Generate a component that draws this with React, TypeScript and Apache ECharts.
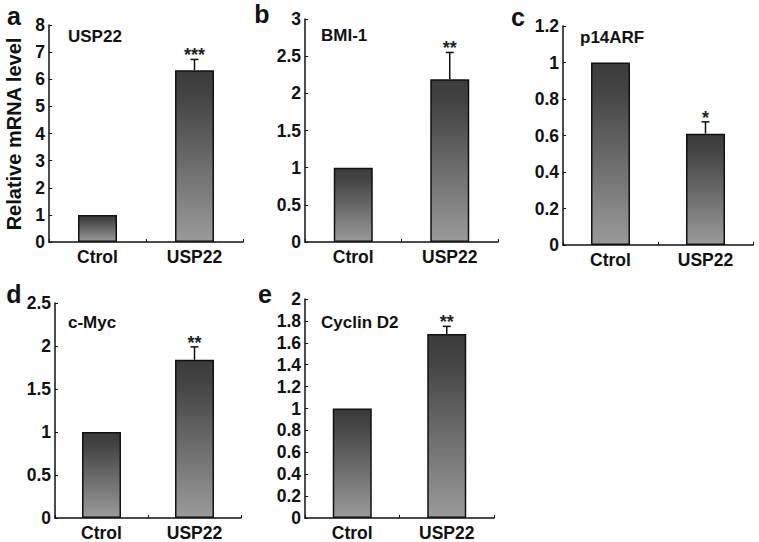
import React, { useEffect, useRef } from "react";
import * as echarts from "echarts";

const categories = ["Ctrol", "USP22"];
const panelLetters = ["a", "b", "c", "d", "e"];
const genes = ["USP22", "BMI-1", "p14ARF", "c-Myc", "Cyclin D2"];
const ctrolValues = [1, 1, 1, 1, 1];
const usp22Values = [6.33, 2.19, 0.61, 1.84, 1.68];
const usp22Errors = [0.4, 0.36, 0.065, 0.15, 0.07];
const significance = ["***", "**", "*", "**", "**"];
const yMax = [8, 3, 1.2, 2.5, 2];
const yInterval = [1, 0.5, 0.2, 0.5, 0.2];
const yAxisTitle = "Relative mRNA level";

// layout (pixels)
const grids = [
  { left: 49, top: 25, width: 194, height: 217 },
  { left: 305, top: 19, width: 193, height: 223 },
  { left: 563, top: 26, width: 190, height: 219 },
  { left: 55, top: 303, width: 186, height: 217 },
  { left: 305, top: 299, width: 189, height: 221 },
];
const titlePos = [
  [68, 36],
  [321, 35],
  [580, 37],
  [68, 322],
  [321, 322],
];
const letterPos = [
  [14, 16],
  [262, 14],
  [518, 17],
  [14, 294],
  [265, 294],
];

const FONT = "'Liberation Sans', Arial, Helvetica, sans-serif";
const INK = "#111";

export default function App() {
  const ref = useRef<HTMLDivElement>(null);
  useEffect(() => {
    document.body.style.margin = "0";
    if (!ref.current) return;
    const chart = echarts.init(ref.current, undefined, { renderer: "svg" });
    const barGradient = new echarts.graphic.LinearGradient(0, 0, 0, 1, [
      { offset: 0, color: "#3b3b3b" },
      { offset: 0.15, color: "#444444" },
      { offset: 1, color: "#9a9a9a" },
    ]);
    const xAxis: any[] = [];
    const yAxis: any[] = [];
    const series: any[] = [];
    const graphic: any[] = [];
    grids.forEach((g, i) => {
      xAxis.push({
        type: "category",
        gridIndex: i,
        data: categories,
        axisLine: { lineStyle: { color: INK, width: 1.5 } },
        axisTick: { show: true, inside: true, length: 3, lineStyle: { color: INK, width: 1 } },
        axisLabel: { color: INK, fontSize: 17.5, fontWeight: "bold", fontFamily: FONT, margin: 6 },
      });
      yAxis.push({
        type: "value",
        gridIndex: i,
        min: 0,
        max: yMax[i],
        interval: yInterval[i],
        splitLine: { show: false },
        axisLine: { show: true, lineStyle: { color: INK, width: 1.5 } },
        axisTick: { show: true, inside: true, length: 3, lineStyle: { color: INK, width: 1 } },
        axisLabel: { color: INK, fontSize: 17.5, fontWeight: "bold", fontFamily: FONT, margin: 4 },
      });
      series.push({
        type: "bar",
        xAxisIndex: i,
        yAxisIndex: i,
        barWidth: 39,
        data: [ctrolValues[i], usp22Values[i]],
        itemStyle: { color: barGradient, borderColor: INK, borderWidth: 1.5 },
        z: 2,
      });
      const stars = significance[i];
      series.push({
        type: "custom",
        xAxisIndex: i,
        yAxisIndex: i,
        z: 3,
        encode: { x: 0, y: 1 },
        data: [[1, usp22Values[i], usp22Errors[i]]],
        renderItem: (params: any, api: any) => {
          const x = api.value(0);
          const mean = api.value(1);
          const err = api.value(2);
          const base = api.coord([x, mean]);
          const top = api.coord([x, mean + err]);
          return {
            type: "group",
            children: [
              {
                type: "line",
                shape: { x1: base[0], y1: base[1], x2: top[0], y2: top[1] },
                style: { stroke: INK, lineWidth: 1.5 },
              },
              {
                type: "line",
                shape: { x1: top[0] - 4, y1: top[1], x2: top[0] + 4, y2: top[1] },
                style: { stroke: INK, lineWidth: 1.5 },
              },
              {
                type: "text",
                x: top[0],
                y: top[1] + 5,
                style: {
                  text: stars,
                  fontSize: 18,
                  fontWeight: "bold",
                  fontFamily: FONT,
                  fill: "#222",
                  align: "center",
                  verticalAlign: "bottom",
                },
              },
            ],
          };
        },
      });
      graphic.push({
        type: "text",
        x: titlePos[i][0],
        y: titlePos[i][1],
        style: {
          text: genes[i],
          fontSize: 17,
          fontWeight: "bold",
          fontFamily: FONT,
          fill: INK,
          align: "left",
          verticalAlign: "middle",
        },
      });
      graphic.push({
        type: "text",
        x: letterPos[i][0],
        y: letterPos[i][1],
        style: {
          text: panelLetters[i],
          fontSize: 25,
          fontWeight: "bold",
          fontFamily: FONT,
          fill: INK,
          align: "center",
          verticalAlign: "middle",
        },
      });
    });
    graphic.push({
      type: "text",
      x: 14,
      y: 134,
      rotation: Math.PI / 2,
      style: {
        text: yAxisTitle,
        fontSize: 20,
        fontWeight: "bold",
        fontFamily: FONT,
        fill: INK,
        align: "center",
        verticalAlign: "middle",
      },
    });
    chart.setOption({
      animation: false,
      backgroundColor: "#fff",
      grid: grids.map((g) => ({ ...g, containLabel: false })),
      xAxis,
      yAxis,
      series,
      graphic,
    });
    return () => chart.dispose();
  }, []);
  return (
    <div
      ref={ref}
      style={{ width: 759, height: 542, position: "fixed", left: 0, top: 0 }}
    />
  );
}
